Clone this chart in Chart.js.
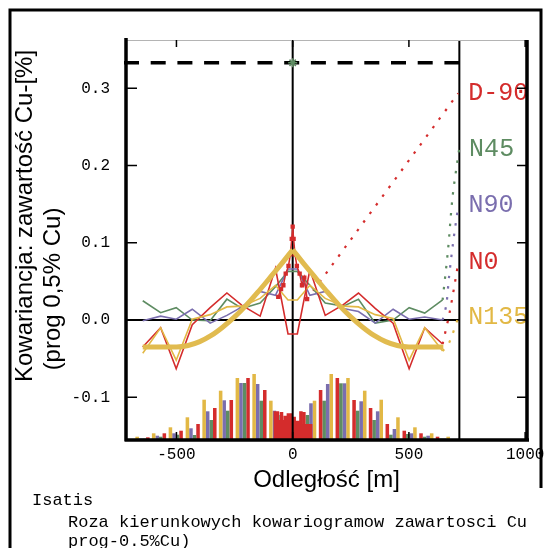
<!DOCTYPE html>
<html><head><meta charset="utf-8">
<script src="https://cdn.jsdelivr.net/npm/chart.js@4/dist/chart.umd.min.js"></script>
<style>html,body{margin:0;padding:0;background:#fff;}canvas{display:block}</style>
</head><body>
<canvas id="c" width="545" height="548"></canvas>
<script>
// ---------- data ----------
const xTicks = [-500, 0, 500, 1000];
const yTicks = [-0.1, 0.0, 0.1, 0.2, 0.3];
const sillValue = 0.333;
const maxDist = 717;

// experimental covariances (lag in m)
const expLag  = [-645,-568,-501,-432,-355,-283,-218,-140,-74,-20,20,74,140,218,283,355,432,501,568,645];
const covN0   = [-0.035,-0.010,-0.063,-0.006,0.016,0.035,0.019,0.005,0.067,-0.018,-0.018,0.065,0.006,0.020,0.035,0.015,-0.004,-0.063,-0.010,-0.031];
const covN45  = [0.025,0.0095,0.016,0.000,-0.001,0.027,0.015,0.022,0.043,0.063,0.063,0.045,0.022,0.018,0.027,-0.004,0.000,0.016,0.009,0.026];
const covN90  = [-0.001,0.005,0.001,0.014,-0.004,0.006,0.017,0.037,0.032,0.066,0.066,0.032,0.037,0.015,0.011,-0.004,0.014,0.001,0.004,0.000];
const covN135 = [-0.043,-0.010,-0.052,0.001,0.007,0.017,0.018,0.028,0.045,0.026,0.026,0.045,0.028,0.018,0.017,0.007,0.002,-0.052,-0.010,-0.040];

// vertical direction D-90
const d90Lag = [-62,-50,-40,-30,-18,-10,-4,0,4,10,18,30,40,50,62];
const d90Cov = [0.030,0.040,0.045,0.060,0.070,0.085,0.105,0.121,0.105,0.085,0.070,0.060,0.045,0.055,0.027];

// fitted model (thick curve)
const modelLagL = [-645,-600,-550,-500,-450,-400,-350,-300,-250,-200,-150,-100,-50,0];
const modelCovL = [-0.035,-0.035,-0.035,-0.035,-0.033,-0.028,-0.020,-0.009,0.004,0.019,0.036,0.054,0.072,0.091];
const modelLagR = [0,50,100,150,200,250,300,350,400,450,500,550,600,648];
const modelCovR = [0.091,0.072,0.054,0.036,0.019,0.004,-0.009,-0.020,-0.028,-0.033,-0.035,-0.035,-0.035,-0.035];

// number of pairs (histogram)
const histLag   = [-646,-575,-503,-430,-358,-287,-215,-143,-71,71,143,215,287,358,430,503,575,646];
const pairsN0   = [17,57,83,150,310,390,610,490,270,270,490,610,390,310,150,83,57,23];
const pairsN45  = [5,23,43,40,190,283,560,383,240,240,383,557,283,190,43,50,23,5];
const pairsN90  = [5,33,57,107,277,387,560,550,283,357,550,557,377,277,100,57,33,5];
const pairsN135 = [23,57,117,217,393,483,610,650,383,383,650,610,483,393,217,117,57,23];
const d90HistLag   = [-83,-58,-40,-26,-15,0,14,28,43,60,86];
const d90HistPairs = [150,277,190,233,257,257,223,183,277,150,150];

// label leader lines
const leadD90X  = [62,712];            const leadD90Y  = [0.027,0.2935];
const leadN45X  = [645,668,688,716];   const leadN45Y  = [0.026,0.090,0.160,0.221];
const leadN90X  = [645,661,672,690,713]; const leadN90Y = [0.000,0.020,0.054,0.100,0.149];
const leadN0X   = [645,676,713];       const leadN0Y   = [-0.031,0.011,0.075];
const leadN135X = [645,672,712];       const leadN135Y = [-0.040,-0.030,0.003];

const yTitle = ['Kowariancja: zawartość Cu-[%]', '(prog 0,5% Cu)'];
const xTitle = 'Odległość [m]';
const footer = ['Isatis', 'Roza kierunkowych kowariogramow zawartosci Cu', 'prog-0.5%Cu)'];

// ---------- styles ----------
const C = {N0:'#d42c2c', N45:'#5e8c62', N90:'#7a6eae', N135:'#e2b845', model:'#e1bb4f'};
const xy = (xs, ys) => xs.map((v, i) => ({x: v, y: ys[i]}));

const leaders = [
  {name:'D-90', xs:leadD90X, ys:leadD90Y, color:C.N0},
  {name:'N45',  xs:leadN45X, ys:leadN45Y, color:C.N45},
  {name:'N90',  xs:leadN90X, ys:leadN90Y, color:C.N90},
  {name:'N0',   xs:leadN0X,  ys:leadN0Y,  color:C.N0},
  {name:'N135', xs:leadN135X,ys:leadN135Y,color:C.N135}
];

const datasets = [];
datasets.push({type:'line', label:'model L', data:xy(modelLagL, modelCovL), borderColor:C.model, borderWidth:5, pointRadius:0, cubicInterpolationMode:'monotone', order:0});
datasets.push({type:'line', label:'model R', data:xy(modelLagR, modelCovR), borderColor:C.model, borderWidth:5, pointRadius:0, cubicInterpolationMode:'monotone', order:0});
datasets.push({type:'line', label:'sill', data:[{x:0, y:sillValue}], showLine:false, pointStyle:'star', pointRadius:4.5, borderColor:C.N45, borderWidth:1.5, order:0});
datasets.push({type:'line', label:'D-90', data:xy(d90Lag, d90Cov), borderColor:C.N0, backgroundColor:C.N0, borderWidth:1.5, pointStyle:'rect', pointRadius:2, order:1});
[['N135',covN135],['N0',covN0],['N90',covN90],['N45',covN45]].forEach(([n, v]) => {
  datasets.push({type:'line', label:n, data:xy(expLag, v), borderColor:C[n], borderWidth:1.6, pointRadius:0, tension:0, order:2});
});
leaders.forEach(l => {
  datasets.push({type:'line', label:l.name + ' lead', data:xy(l.xs, l.ys), borderColor:l.color, borderWidth:2.2, borderDash:[2.5, 8.1], pointRadius:0, tension:0.3, order:3});
});
datasets.push({type:'line', id:'d90hist', label:'D-90 pary', data:xy(d90HistLag, d90HistPairs), yAxisID:'yc', stepped:'after', fill:'origin', backgroundColor:C.N0, borderWidth:0, borderColor:'rgba(0,0,0,0)', pointRadius:0, order:4});
const histSets = {N0:pairsN0, N45:pairsN45, N90:pairsN90, N135:pairsN135};
const neg = ['N135','N90','N45','N0'], pos = ['N0','N45','N90','N135'];
const barStyle = {yAxisID:'yc', borderWidth:0, categoryPercentage:0.86, barPercentage:1.0, order:5};
neg.forEach((n, i) => datasets.push(Object.assign({type:'bar', label:n + ' pary-', data:xy(histLag, histSets[n]).filter(p => p.x < 0), stack:'s' + i, backgroundColor:C[n]}, barStyle)));
pos.forEach((n, i) => datasets.push(Object.assign({type:'bar', label:n + ' pary+', data:xy(histLag, histSets[n]).filter(p => p.x > 0), stack:'s' + i, backgroundColor:C[n]}, barStyle)));

const MONO = '"Liberation Mono", "Courier New", monospace';
const SANS = '"Liberation Sans", Arial, sans-serif';

const decor = {
  id: 'decor',
  afterDatasetDraw(chart, args) {
    if (chart.data.datasets[args.index].id !== 'd90hist') return;
    const {ctx, chartArea: a, scales: {x, y}} = chart;
    const x0 = x.getPixelForValue(0), xr = x.getPixelForValue(maxDist), y0 = y.getPixelForValue(0);
    ctx.save();
    ctx.strokeStyle = '#000';
    ctx.lineWidth = 2;
    ctx.beginPath();
    ctx.moveTo(x0, a.top); ctx.lineTo(x0, a.bottom);
    ctx.moveTo(xr, a.top); ctx.lineTo(xr, a.bottom);
    ctx.moveTo(a.left, y0); ctx.lineTo(xr, y0);
    ctx.stroke();
    const ys = y.getPixelForValue(sillValue);
    ctx.setLineDash([15, 11.7]);
    ctx.lineWidth = 3.5;
    ctx.beginPath(); ctx.moveTo(a.left - 2, ys); ctx.lineTo(xr, ys); ctx.stroke();
    ctx.restore();
  },
  afterDraw(chart) {
    const {ctx, chartArea: a, scales: {x, y}} = chart;
    ctx.save();
    ctx.save();
    ctx.beginPath(); ctx.rect(a.left, a.top, a.right - a.left, a.bottom - a.top); ctx.clip();
    ctx.font = '25px ' + MONO; ctx.textAlign = 'left'; ctx.textBaseline = 'middle';
    leaders.forEach(l => {
      const n = l.xs.length - 1;
      ctx.fillStyle = l.color;
      ctx.fillText(l.name, x.getPixelForValue(l.xs[n]) + 10, y.getPixelForValue(l.ys[n]));
    });
    ctx.restore();
    ctx.strokeStyle = '#b4b4b4'; ctx.lineWidth = 1;
    ctx.beginPath(); ctx.moveTo(a.left, a.top + 0.5); ctx.lineTo(a.right, a.top + 0.5); ctx.stroke();
    ctx.strokeStyle = '#000'; ctx.lineWidth = 3.5;
    ctx.beginPath();
    ctx.moveTo(a.left, a.top - 2); ctx.lineTo(a.left, a.bottom + 2.5);
    ctx.moveTo(a.left - 1, a.bottom + 1); ctx.lineTo(a.right + 2, a.bottom + 1);
    ctx.moveTo(a.right, a.top); ctx.lineTo(a.right, a.bottom + 2.5);
    ctx.stroke();
    ctx.lineWidth = 1.5;
    ctx.beginPath();
    yTicks.forEach(v => { const p = y.getPixelForValue(v); ctx.moveTo(a.left, p); ctx.lineTo(a.left + 11, p); ctx.moveTo(a.right, p); ctx.lineTo(a.right - 10, p); });
    xTicks.forEach(v => { const p = x.getPixelForValue(v); ctx.moveTo(p, a.bottom); ctx.lineTo(p, a.bottom - 7); ctx.moveTo(p, a.top); ctx.lineTo(p, a.top + 7); });
    ctx.stroke();
    ctx.lineWidth = 3;
    ctx.beginPath(); ctx.moveTo(10, 560); ctx.lineTo(10, 10); ctx.lineTo(541, 10); ctx.lineTo(541, 488); ctx.stroke();
    ctx.fillStyle = '#000';
    ctx.font = '24px ' + SANS; ctx.textAlign = 'center'; ctx.textBaseline = 'middle';
    ctx.save(); ctx.translate(25, 216); ctx.rotate(-Math.PI / 2); ctx.fillText(yTitle[0], 0, 0); ctx.restore();
    ctx.save(); ctx.translate(53, 289); ctx.rotate(-Math.PI / 2); ctx.fillText(yTitle[1], 0, 0); ctx.restore();
    ctx.fillText(xTitle, (a.left + a.right) / 2, 480);
    ctx.font = '17px ' + MONO; ctx.textAlign = 'left';
    ctx.fillText(footer[0], 32, 500);
    ctx.fillText(footer[1], 68, 522);
    ctx.fillText(footer[2], 68, 541);
    ctx.restore();
  }
};

new Chart(document.getElementById('c'), {
  data: {datasets},
  options: {
    responsive: false, animation: false, events: [],
    layout: {padding: {top: 40, right: 18, left: 0, bottom: 0}},
    plugins: {legend: {display: false}, tooltip: {enabled: false}},
    scales: {
      x: {
        type: 'linear', min: -717, max: 1008, stacked: true, offset: false,
        grid: {display: false, drawTicks: false, offset: false}, border: {display: false},
        ticks: {font: {family: MONO, size: 16}, color: '#000', padding: 6, maxRotation: 0, autoSkip: false, callback: v => String(v)},
        afterBuildTicks: s => { s.ticks = xTicks.map(v => ({value: v})); },
        afterFit: s => { s.height = 109; s.paddingLeft = 0; s.paddingRight = 0; }
      },
      y: {
        type: 'linear', min: -0.154, max: 0.3625, stacked: false,
        grid: {display: false, drawTicks: false}, border: {display: false},
        ticks: {font: {family: MONO, size: 16}, color: '#000', padding: 16, callback: v => v.toFixed(1)},
        afterBuildTicks: s => { s.ticks = yTicks.map(v => ({value: v})); },
        afterFit: s => { s.width = 126; s.paddingTop = 0; s.paddingBottom = 0; }
      },
      yc: {type: 'linear', display: false, min: 0, max: 3990, stacked: false}
    }
  },
  plugins: [decor]
});
</script>
</body></html>
